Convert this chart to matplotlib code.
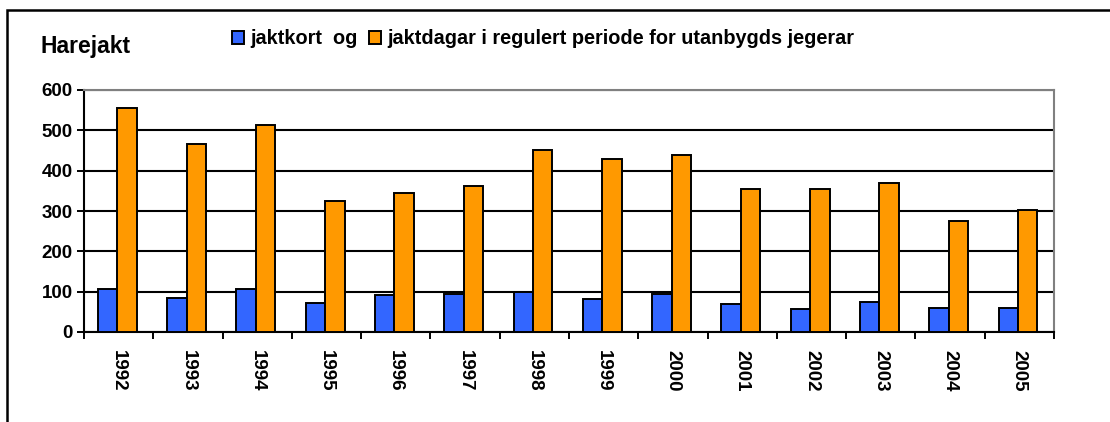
import numpy as np
import matplotlib
matplotlib.use('Agg')
import matplotlib.pyplot as plt
from matplotlib.patches import Rectangle, Patch
from matplotlib.ticker import MultipleLocator, FixedLocator

plt.rcParams['font.family'] = ['Liberation Sans', 'DejaVu Sans']
plt.rcParams['font.weight'] = 'bold'

years = ['1992', '1993', '1994', '1995', '1996', '1997', '1998',
         '1999', '2000', '2001', '2002', '2003', '2004', '2005']
jaktkort = [106, 85, 107, 72, 91, 93, 99, 81, 95, 69, 58, 75, 59, 59]
jaktdagar = [556, 465, 512, 325, 345, 363, 450, 428, 440, 354, 355, 370, 275, 302]
labels = ['jaktkort  og', 'jaktdagar i regulert periode for utanbygds jegerar']
colors = ['#3366FF', '#FF9900']

W, H = 1110, 422
fig = plt.figure(figsize=(W/100, H/100), dpi=100)
ax = fig.add_axes([84/W, 1-332/H, (1054-84)/W, (332-90)/H])

x = np.arange(len(years))
bw = 0.28
ax.bar(x - bw/2 - 0.02, jaktkort, bw, color=colors[0], edgecolor='black', linewidth=1.4, zorder=3)
ax.bar(x + bw/2 - 0.02, jaktdagar, bw, color=colors[1], edgecolor='black', linewidth=1.4, zorder=3)

ax.set_xlim(-0.5, len(years) - 0.5)
ax.set_ylim(0, 600)
ax.yaxis.set_major_locator(MultipleLocator(100))
ax.set_axisbelow(True)
ax.grid(axis='y', color='black', linewidth=1.5)

ax.set_xticks(x)
ax.set_xticklabels(years, rotation=270, fontsize=13.5, fontweight='bold')
ax.tick_params(axis='x', which='major', length=0, pad=13)
ax.xaxis.set_minor_locator(FixedLocator(np.arange(-0.5, len(years), 1.0)))
ax.tick_params(axis='x', which='minor', length=5, width=1.4, direction='out')
ax.tick_params(axis='y', length=5, width=1.4, direction='out', labelsize=13.5, pad=3)
for t in ax.get_yticklabels():
    t.set_fontweight('bold')

for s in ['left', 'bottom']:
    ax.spines[s].set_color('black')
    ax.spines[s].set_linewidth(1.5)
for s in ['top', 'right']:
    ax.spines[s].set_color('#808080')
    ax.spines[s].set_linewidth(1.5)

fig.text(40/W, 1-47/H, 'Harejakt', fontsize=16.5, fontweight='bold', va='center', ha='left')

handles = [Patch(facecolor=c, edgecolor='black', linewidth=1.4) for c in colors]
fig.legend(handles, labels, loc='center left', bbox_to_anchor=(232/W, 1-39/H),
           ncol=2, frameon=False, handlelength=0.6, handleheight=0.6,
           handletextpad=0.3, columnspacing=0.6, borderpad=0, borderaxespad=0,
           prop={'size': 14.3, 'weight': 'bold'})

fig.patches.append(Rectangle((7/W, -0.1), 1.2, 1.1 - 10/H, transform=fig.transFigure,
                             fill=False, edgecolor='black', linewidth=1.8))

fig.savefig('out.png', dpi=100)
